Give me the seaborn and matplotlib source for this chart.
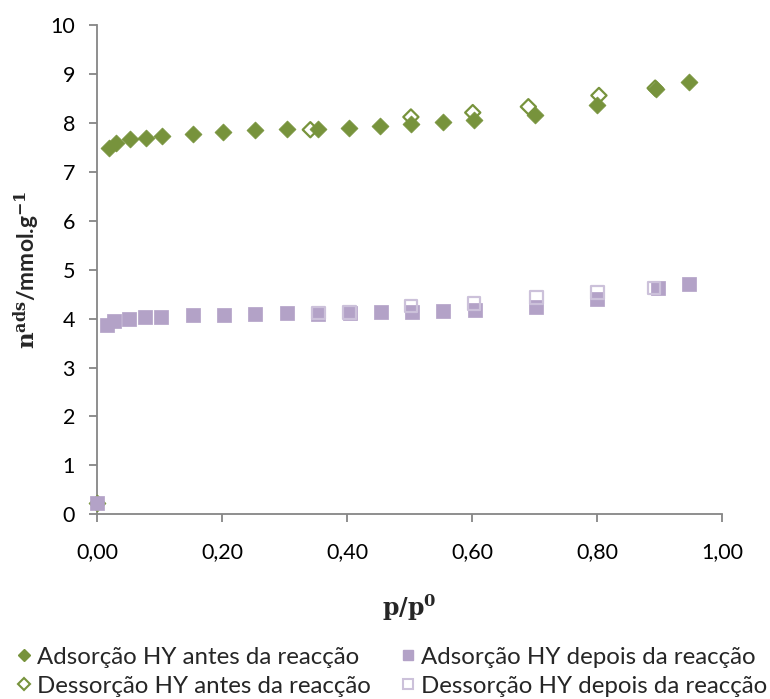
import matplotlib
matplotlib.use("Agg")
import matplotlib.pyplot as plt
import seaborn as sns
import pandas as pd
from matplotlib.lines import Line2D

sns.set_theme(style="white")
plt.rcParams['font.family'] = ['Lato', 'DejaVu Sans']
plt.rcParams['mathtext.fontset'] = 'dejavuserif'

# Adsorção HY antes da reacção
ads_antes_x = [0.000, 0.019, 0.030, 0.052, 0.078, 0.103, 0.153, 0.202, 0.253, 0.303, 0.353, 0.403,
               0.453, 0.502, 0.553, 0.603, 0.701, 0.800, 0.895, 0.947]
ads_antes_y = [0.23, 7.48, 7.58, 7.67, 7.70, 7.73, 7.78, 7.82, 7.85, 7.87, 7.88, 7.89,
               7.94, 7.98, 8.01, 8.05, 8.17, 8.37, 8.69, 8.83]
# Dessorção HY antes da reacção
des_antes_x = [0.341, 0.502, 0.601, 0.690, 0.803, 0.893]
des_antes_y = [7.86, 8.12, 8.21, 8.33, 8.56, 8.71]
# Adsorção HY depois da reacção
ads_depois_x = [0.000, 0.016, 0.027, 0.051, 0.077, 0.102, 0.153, 0.203, 0.253, 0.303, 0.354, 0.404,
                0.454, 0.504, 0.554, 0.604, 0.702, 0.800, 0.897, 0.947]
ads_depois_y = [0.23, 3.86, 3.95, 4.00, 4.03, 4.04, 4.07, 4.08, 4.09, 4.11, 4.09, 4.12,
                4.13, 4.14, 4.15, 4.18, 4.23, 4.39, 4.62, 4.71]
# Dessorção HY depois da reacção
des_depois_x = [0.354, 0.404, 0.502, 0.603, 0.703, 0.801, 0.891]
des_depois_y = [4.11, 4.12, 4.26, 4.31, 4.43, 4.53, 4.62]

labels = ["Adsorção HY antes da reacção", "Dessorção HY antes da reacção",
          "Adsorção HY depois da reacção", "Dessorção HY depois da reacção"]
x_ticks = [0.0, 0.2, 0.4, 0.6, 0.8, 1.0]
x_ticklabels = ["0,00", "0,20", "0,40", "0,60", "0,80", "1,00"]
y_ticks = list(range(0, 11))

green = "#77933C"
purple = "#B3A2C7"
purple_light = "#CCC1DA"

fig = plt.figure(figsize=(7.70, 6.99), dpi=100)
ax = fig.add_axes([97.3 / 770, 1 - 514.3 / 699, (722 - 97.3) / 770, (514.3 - 25) / 699])

sns.scatterplot(x=ads_antes_x, y=ads_antes_y, ax=ax, marker="D", s=75, color=green,
                edgecolor=green, linewidth=0.5, zorder=3)
sns.scatterplot(x=des_antes_x, y=des_antes_y, ax=ax, marker="D", s=60, facecolor="none",
                edgecolor=green, linewidth=1.6, zorder=3)
sns.scatterplot(x=ads_depois_x, y=ads_depois_y, ax=ax, marker="s", s=95, color=purple,
                edgecolor=purple, linewidth=0.5, zorder=4)
sns.scatterplot(x=des_depois_x, y=des_depois_y, ax=ax, marker="s", s=80, facecolor="none",
                edgecolor=purple_light, linewidth=1.6, zorder=4)

ax.set_xlim(0, 1.0)
ax.set_ylim(0, 10)
ax.set_xticks(x_ticks)
ax.set_xticklabels(x_ticklabels)
ax.set_yticks(y_ticks)
ax.tick_params(axis="both", labelsize=15.5, colors="#000000", length=0, pad=8)
ax.tick_params(axis="y", length=6, direction="out", color="#868686", width=1.3, left=True, pad=10)
ax.tick_params(axis="x", length=6, direction="out", color="#868686", width=1.3, bottom=True, pad=14)
for side in ["top", "right"]:
    ax.spines[side].set_visible(False)
for side in ["left", "bottom"]:
    ax.spines[side].set_color("#868686")
    ax.spines[side].set_linewidth(1.3)
for coll in ax.collections:
    coll.set_clip_on(False)

ax.set_ylabel(r"$\mathbf{n^{ads}}$/mmol.g$^{\mathbf{-1}}$", fontsize=16.5, fontweight="bold", labelpad=6)
ax.set_xlabel(r"$\mathbf{p/p^0}$", fontsize=17, labelpad=22)

handles = [
    Line2D([], [], linestyle="none", marker="D", markersize=6, color=green, markeredgecolor=green),
    Line2D([], [], linestyle="none", marker="D", markersize=6, markerfacecolor="none",
           markeredgecolor=green, markeredgewidth=1.5),
    Line2D([], [], linestyle="none", marker="s", markersize=7, color=purple, markeredgecolor=purple),
    Line2D([], [], linestyle="none", marker="s", markersize=7, markerfacecolor="none",
           markeredgecolor=purple_light, markeredgewidth=1.5),
]
fig.legend(handles, labels, loc="lower center", bbox_to_anchor=(0.51, -0.024), ncol=2, frameon=False,
           fontsize=17.3, handlelength=0.5, handletextpad=0.3, columnspacing=1.3, labelspacing=0.33,
           borderpad=0.3)

fig.savefig("out.png", dpi=100)
